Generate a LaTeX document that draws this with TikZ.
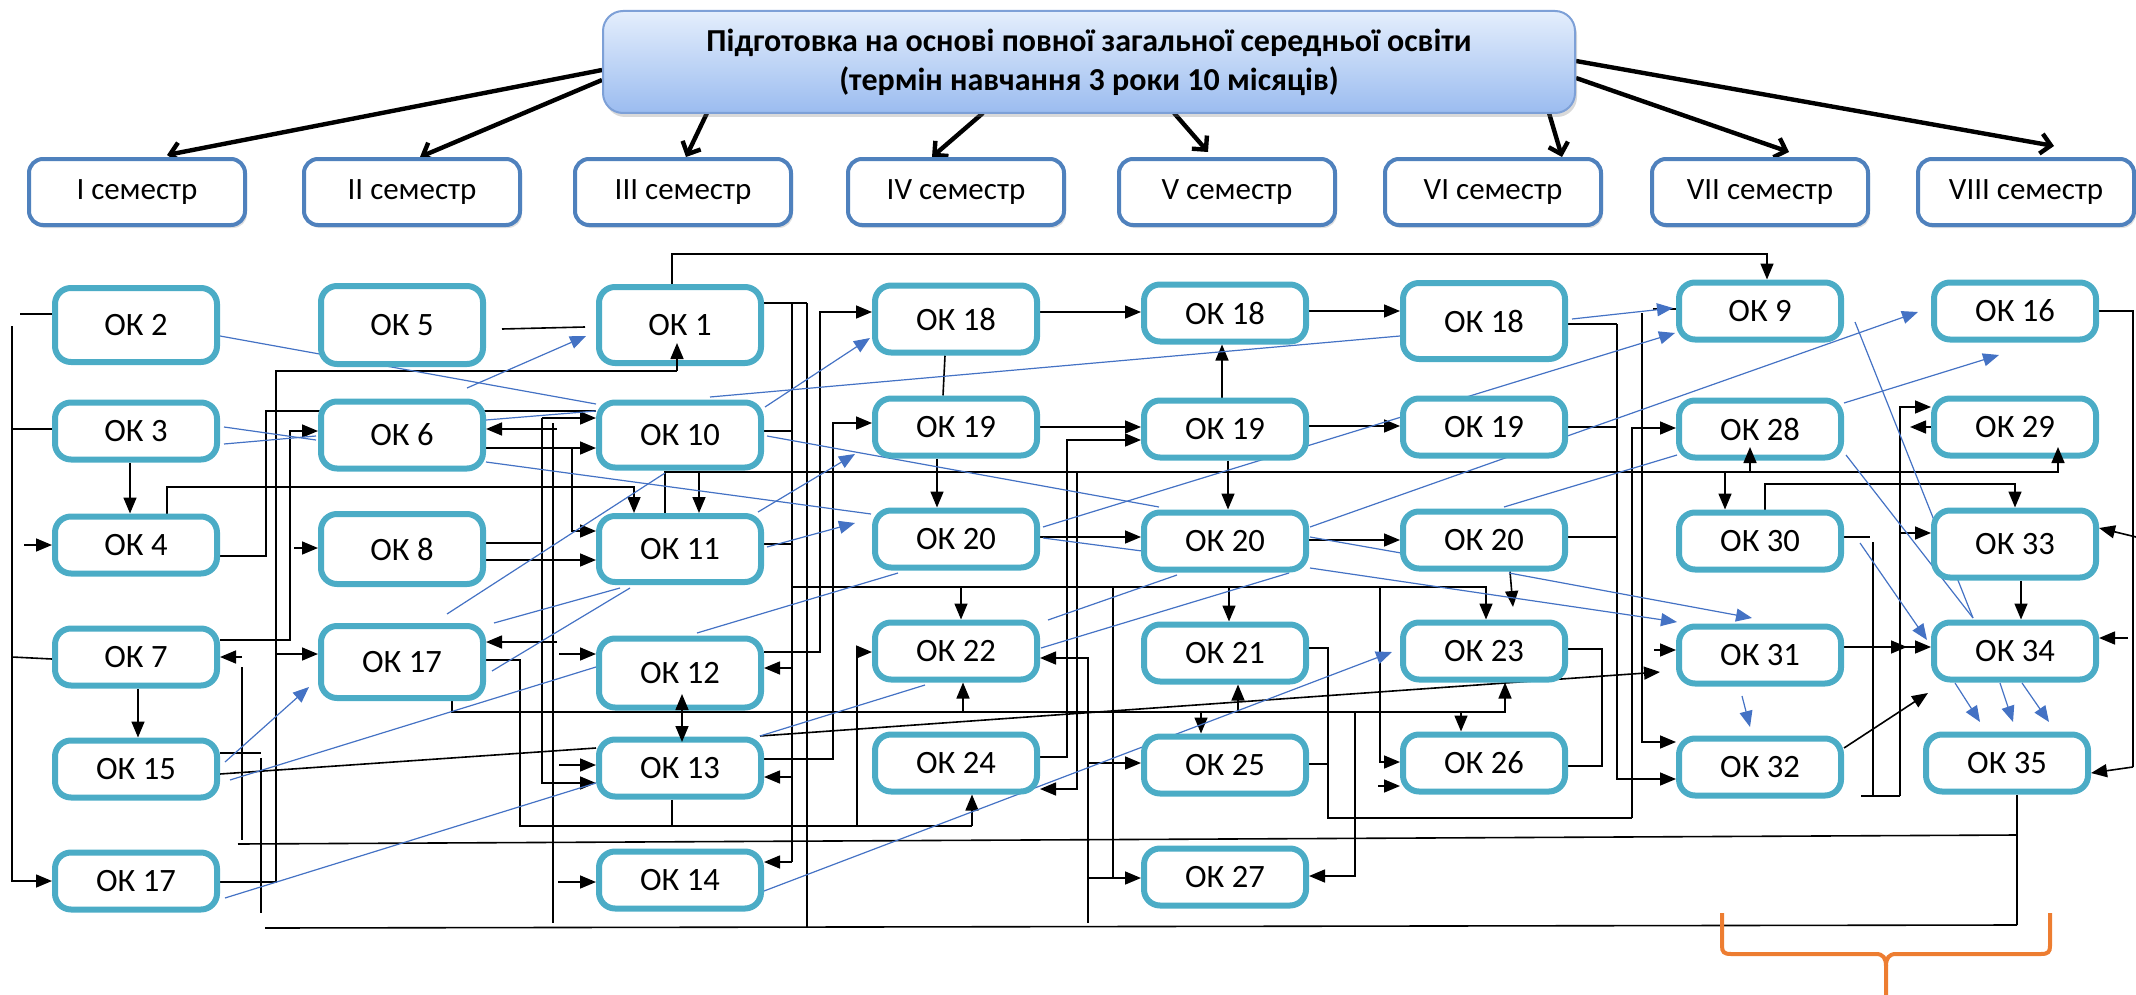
\documentclass[tikz,border=0pt]{standalone}
\usepackage{fontspec}
\setmainfont{Carlito}
\usetikzlibrary{arrows.meta,shadows}
\pgfdeclarelayer{bg}
\pgfsetlayers{bg,main}
\definecolor{okc}{RGB}{75,172,198}
\definecolor{semc}{RGB}{79,129,189}
\definecolor{bluel}{RGB}{68,114,196}
\definecolor{hdrtop}{RGB}{228,238,252}
\definecolor{hdrbot}{RGB}{155,188,240}
\definecolor{hdrline}{RGB}{125,160,215}
\definecolor{orng}{RGB}{237,125,49}
\begin{document}
\begin{tikzpicture}[x=0.5pt,y=-0.5pt,
 ok/.style={draw=okc, line width=3pt, rounded corners=8pt, fill=white, minimum width=81pt, minimum height=28.5pt, inner sep=0pt, font=\fontsize{16.3}{19}\selectfont},
 sem/.style={draw=semc, line width=2pt, rounded corners=7pt, fill=white, minimum width=108pt, minimum height=33pt, inner sep=0pt, font=\fontsize{15.5}{18}\selectfont, drop shadow={opacity=0.25,shadow xshift=1pt,shadow yshift=-1.5pt}},
 hdr/.style={draw=hdrline, line width=1pt, rounded corners=10pt, top color=hdrtop, bottom color=hdrbot, minimum width=486pt, minimum height=51pt, align=center, font=\fontsize{16}{19.5}\selectfont\bfseries, drop shadow={opacity=0.3,shadow xshift=1pt,shadow yshift=-2pt}},
 bl/.style={line width=0.8pt, draw=black},
 ba/.style={bl, -{Triangle[length=8pt,width=6.5pt]}},
 bu/.style={line width=0.6pt, draw=bluel},
 bua/.style={bu, -{Triangle[length=8pt,width=6.5pt]}},
 hd/.style={line width=2.2pt, -{Straight Barb[length=5pt,width=10pt]}}
]
\useasboundingbox (0,0) rectangle (2136,995);

% header and semesters
\node[hdr] (hdr) at (1089,62) {Підготовка на основі повної загальної середньої освіти\\(термін навчання 3 роки 10 місяців)};
\node[sem] (s1) at (137,192) {I семестр};
\node[sem] (s2) at (412,192) {II семестр};
\node[sem] (s3) at (683,192) {III семестр};
\node[sem] (s4) at (956,192) {IV семестр};
\node[sem] (s5) at (1227,192) {V семестр};
\node[sem] (s6) at (1493,192) {VI семестр};
\node[sem] (s7) at (1760,192) {VII семестр};
\node[sem] (s8) at (2026,192) {VIII семестр};

% column 1
\node[ok, minimum height=37pt] (ok2) at (136,325) {ОК 2};
\node[ok] (ok3) at (136,431) {ОК 3};
\node[ok] (ok4) at (136,545) {ОК 4};
\node[ok] (ok7) at (136,657) {ОК 7};
\node[ok] (ok15) at (136,769) {ОК 15};
\node[ok] (ok17a) at (136,881) {ОК 17};
% column 2
\node[ok, minimum height=39pt] (ok5) at (402,325) {ОК 5};
\node[ok, minimum height=33.5pt] (ok6) at (402,435) {ОК 6};
\node[ok, minimum height=35pt] (ok8) at (402,549) {ОК 8};
\node[ok, minimum height=36pt] (ok17b) at (402,662) {ОК 17};
% column 3
\node[ok, minimum height=38pt] (ok1) at (680,325) {ОК 1};
\node[ok, minimum height=32.5pt] (ok10) at (680,435) {ОК 10};
\node[ok, minimum height=33pt] (ok11) at (680,549) {ОК 11};
\node[ok, minimum height=34.5pt] (ok12) at (680,673) {ОК 12};
\node[ok] (ok13) at (680,768) {ОК 13};
\node[ok] (ok14) at (680,880) {ОК 14};
% column 4
\node[ok, minimum height=33.5pt] (ok18a) at (956,319) {ОК 18};
\node[ok] (ok19a) at (956,427) {ОК 19};
\node[ok] (ok20a) at (956,539) {ОК 20};
\node[ok] (ok22) at (956,651) {ОК 22};
\node[ok] (ok24) at (956,763) {ОК 24};
% column 5
\node[ok] (ok18b) at (1225,313) {ОК 18};
\node[ok] (ok19b) at (1225,429) {ОК 19};
\node[ok] (ok20b) at (1225,541) {ОК 20};
\node[ok] (ok21) at (1225,653) {ОК 21};
\node[ok] (ok25) at (1225,765) {ОК 25};
\node[ok] (ok27) at (1225,877) {ОК 27};
% column 6
\node[ok, minimum height=38pt] (ok18c) at (1484,321) {ОК 18};
\node[ok] (ok19c) at (1484,427) {ОК 19};
\node[ok] (ok20c) at (1484,540) {ОК 20};
\node[ok] (ok23) at (1484,651) {ОК 23};
\node[ok] (ok26) at (1484,763) {ОК 26};
% column 7
\node[ok] (ok9) at (1760,311) {ОК 9};
\node[ok] (ok28) at (1760,429) {ОК 28};
\node[ok] (ok30) at (1760,541) {ОК 30};
\node[ok] (ok31) at (1760,655) {ОК 31};
\node[ok] (ok32) at (1760,767) {ОК 32};
% column 8
\node[ok] (ok16) at (2015,311) {ОК 16};
\node[ok] (ok29) at (2015,427) {ОК 29};
\node[ok, minimum height=33.5pt] (ok33) at (2015,544) {ОК 33};
\node[ok] (ok34) at (2015,651) {ОК 34};
\node[ok] (ok35) at (2007,763) {ОК 35};

\begin{pgfonlayer}{bg}
% header arrows
\draw[hd] (hdr.west |- 0,70) -- (167,155);
\draw[hd] (hdr.west |- 0,80) -- (420,157);
\draw[hd] (707,113) -- (686,157);
\draw[hd] (983,113) -- (932,157);
\draw[hd] (1174,113) -- (1208,152);
\draw[hd] (1549,113) -- (1562,157);
\draw[hd] (hdr.east |- 0,78) -- (1789,152);
\draw[hd] (hdr.east |- 0,61) -- (2054,146);

% black connectors
\draw[ba] (ok1.north -| 672,0) |- (1767,254) -- (ok9.north -| 1767,0);
\draw[ba] (12,326) |- (ok17a.west);
\draw[bl] (20,314) -- (ok2.west |- 0,314);
\draw[bl] (12,429) -- (ok3.west |- 0,429);
\draw[bl] (12,657) -- (ok7.west |- 0,659);
\draw[ba] (24,545) -- (ok4.west);
\draw[ba] (ok3.south -| 130,0) -- (ok4.north -| 130,0);
\draw[ba] (ok7.south -| 138,0) -- (ok15.north -| 138,0);
\draw[ba] (ok4.north -| 167,0) |- (634,487) -- (ok11.north -| 634,0);
\draw[bl] (ok4.east |- 0,556) -- (266,556) -- (266,411) -- (ok10.west |- 0,411);
\draw[ba] (ok7.east |- 0,640) -- (290,640) -- (290,431) -- (ok6.west |- 0,431);
\draw[bl] (ok17a.east |- 0,882) -- (276,882) -- (276,371) -- (677,371);
\draw[ba] (276,654) -- (ok17b.west |- 0,654);
\draw[bl] (502,329) -- (585,327);
\draw[ba] (542,418) -- (ok10.west |- 0,418);
\draw[ba] (542,418) |- (ok13.west |- 0,783);
\draw[bl] (553,423) -- (553,923);
\draw[ba] (557,429) -- (ok6.east |- 0,429);
\draw[ba] (ok6.east |- 0,448) -- (ok10.west |- 0,448);
\draw[ba] (572,448) |- (ok11.west |- 0,531);
\draw[bl] (ok8.east |- 0,543) -- (542,543);
\draw[ba] (ok8.east |- 0,560) -- (ok11.west |- 0,560);
\draw[ba] (294,548) -- (ok8.west |- 0,548);
\draw[ba] (ok10.south -| 699,0) -- (ok11.north -| 699,0);
\draw[bl] (ok11.north -| 665,0) |- (2058,472) -- (2058,460);
\draw[ba] (1725,472) -- (ok30.north -| 1725,0);
\draw[bl] (ok1.east |- 0,303) -- (807,303);
\draw[bl] (792,303) -- (792,862);
\draw[ba] (792,862) -- (ok14.east |- 0,862);
\draw[bl] (807,303) -- (807,928);
\draw[ba] (ok12.east |- 0,652) -| (820,312) -- (ok18a.west |- 0,312);
\draw[ba] (ok13.east |- 0,759) -| (833,423) -- (ok19a.west |- 0,423);
\draw[bl] (ok10.east |- 0,431) -- (792,431);
\draw[bl] (ok11.east |- 0,544) -- (792,544);
\draw[ba] (792,668) -- (ok12.east |- 0,668);
\draw[ba] (792,777) -- (ok13.east |- 0,777);
\draw[ba] (792,587) -| (ok23.north -| 1486,0);
\draw[ba] (961,587) -- (ok22.north -| 961,0);
\draw[ba] (1229,587) -- (ok21.north -| 1229,0);
\draw[ba] (1113,587) |- (ok27.west |- 0,878);
\draw[ba] (1380,587) |- (ok26.west |- 0,762);
\draw[ba] (559,654) -- (ok12.west |- 0,654);
\draw[ba] (559,765) -- (ok13.west |- 0,765);
\draw[ba] (558,882) -- (ok14.west |- 0,882);
\draw[ba] (557,642) -- (ok17b.east |- 0,642);
\draw[bl] (ok15.east |- 0,774) -- (ok13.west |- 0,748);
\draw[ba] (760,736) -- (1660,672);
\draw[ba] (ok17b.south -| 452,0) |- (1505,712) -- (ok23.south -| 1505,0);
\draw[ba] (963,712) -- (ok22.south -| 963,0);
\draw[ba] (1238,712) -- (ok21.south -| 1238,0);
\draw[ba] (1201,712) -- (ok25.north -| 1201,0);
\draw[ba] (1461,712) -- (ok26.north -| 1461,0);
\draw[bl] (ok17b.east |- 0,660) -- (520,660) -- (520,826) -- (972,826);
\draw[ba] (972,826) -- (ok24.south -| 972,0);
\draw[ba] (857,826) |- (ok22.west |- 0,652);
\draw[bl] (ok13.south -| 672,0) -- (672,826);
\draw[bl] (238,844) -- (2017,835);
\draw[bl] (ok35.south -| 2017,0) -- (2017,925);
\draw[bl] (242,667) -- (242,840);
\draw[ba] (242,657) -- (ok7.east |- 0,657);
\draw[bl] (ok15.east |- 0,753) -- (261,753);
\draw[bl] (261,758) -- (261,913);
\draw[bl] (265,928) -- (2017,925);
\draw[ba] (ok24.east |- 0,757) -- (1067,757) -- (1067,440) -- (ok19b.west |- 0,440);
\draw[ba] (1077,473) -- (1077,789) -- (ok24.east |- 0,789);
\draw[ba] (1088,923) -- (1088,658) -- (ok22.east |- 0,658);
\draw[ba] (1089,763) -- (ok25.west |- 0,763);
\draw[bl] (1089,878) -- (1113,878);
\draw[bl] (ok21.east |- 0,648) -- (1328,648) -- (1328,818) -- (1632,818);
\draw[ba] (1632,818) -- (1632,428) -- (ok28.west |- 0,428);
\draw[bl] (ok25.east |- 0,764) -- (1328,764);
\draw[ba] (1355,713) -- (1355,876) -- (ok27.east |- 0,876);
\draw[ba] (ok18a.east |- 0,312) -- (ok18b.west |- 0,312);
\draw[ba] (ok18b.east |- 0,311) -- (ok18c.west |- 0,311);
\draw[bl] (ok18a.south -| 945,0) -- (ok19a.north -| 943,0);
\draw[ba] (ok19b.north -| 1222,0) -- (ok18b.south -| 1222,0);
\draw[ba] (ok19a.east |- 0,427) -- (ok19b.west |- 0,427);
\draw[ba] (ok19b.east |- 0,426) -- (ok19c.west |- 0,426);
\draw[ba] (ok19a.south -| 937,0) -- (ok20a.north -| 937,0);
\draw[ba] (ok19b.south -| 1228,0) -- (ok20b.north -| 1228,0);
\draw[ba] (ok20a.east |- 0,537) -- (ok20b.west |- 0,537);
\draw[ba] (ok20b.east |- 0,540) -- (ok20c.west |- 0,540);
\draw[ba] (ok20c.south -| 1510,0) -- (1513,607);
\draw[bl] (ok23.east |- 0,649) -- (1602,649) -- (1602,766) -- (ok26.east |- 0,766);
\draw[ba] (1378,786) -- (ok26.west |- 0,786);
\draw[bl] (ok18c.east |- 0,324) -- (1617,324);
\draw[ba] (1617,324) |- (ok32.west |- 0,779);
\draw[bl] (ok19c.east |- 0,427) -- (1617,427);
\draw[bl] (ok20c.east |- 0,537) -- (1617,537);
\draw[bl] (1653,309) -- (ok9.west |- 0,309);
\draw[ba] (1642,313) |- (ok32.west |- 0,742);
\draw[ba] (1654,650) -- (ok31.west |- 0,650);
\draw[ba] (ok31.east |- 0,647) -- (ok34.west |- 0,647);
\draw[ba] (ok31.east |- 0,647) -- (1907,647);
\draw[ba] (ok32.east |- 0,748) -- (1928,693);
\draw[ba] (ok30.north -| 1765,0) |- (2015,484) -- (ok33.north -| 2015,0);
\draw[ba] (1900,796) -- (1900,407) -- (ok29.west |- 0,407);
\draw[bl] (1861,796) -- (1900,796);
\draw[bl] (1873,542) -- (1873,796);
\draw[bl] (ok30.east |- 0,537) -- (1870,537);
\draw[ba] (ok29.west |- 0,427) -- (1910,427);
\draw[ba] (1900,533) -- (ok33.west |- 0,533);
\draw[bl] (ok16.east |- 0,311) -- (2133,311) -- (2133,767);
\draw[ba] (2136,537) -- (ok33.east |- 0,528);
\draw[ba] (2128,638) -- (ok34.east |- 0,638);
\draw[ba] (2133,767) -- (ok35.east |- 0,773);
\draw[ba] (ok33.south -| 2021,0) -- (ok34.north -| 2021,0);

% blue connectors
\draw[bu] (ok2.east |- 0,336) -- (596,404);
\draw[bua] (467,388) -- (586,336);
\draw[bu] (224,427) -- (316,440);
\draw[bu] (224,444) -- (316,436);
\draw[bu] (486,420) -- (596,411);
\draw[bu] (486,462) -- (871,514);
\draw[bua] (765,407) -- (870,338);
\draw[bu] (710,397) -- (1400,336);
\draw[bu] (767,436) -- (1159,507);
\draw[bua] (758,512) -- (855,454);
\draw[bua] (767,547) -- (855,523);
\draw[bu] (447,614) -- (665,473);
\draw[bu] (494,623) -- (620,588);
\draw[bu] (492,671) -- (630,588);
\draw[bu] (697,633) -- (898,573);
\draw[bu] (230,780) -- (596,667);
\draw[bua] (225,762) -- (309,687);
\draw[bu] (225,898) -- (596,783);
\draw[bu] (760,736) -- (925,685);
\draw[bua] (764,891) -- (1392,652);
\draw[bua] (1043,527) -- (1675,333);
\draw[bua] (1310,527) -- (1918,312);
\draw[bu] (1041,648) -- (1289,573);
\draw[bu] (1048,620) -- (1177,575);
\draw[bua] (1572,319) -- (1673,308);
\draw[bu] (1504,507) -- (1677,455);
\draw[bua] (1844,403) -- (1999,355);
\draw[bu] (1855,322) -- (1973,618);
\draw[bu] (1846,455) -- (1973,618);
\draw[bua] (1860,543) -- (1927,640);
\draw[bu] (1043,538) -- (1142,551);
\draw[bu] (1310,537) -- (1401,553);
\draw[bua] (1310,568) -- (1677,622);
\draw[bua] (1509,573) -- (1752,618);
\end{pgfonlayer}

% arrows drawn over boxes
\draw[ba] (677,371) -- (677,343);
\draw[ba] (1750,472) -- (1750,447);
\draw[ba] (2058,472) -- (2058,447);
\draw[bl, {Triangle[length=8pt,width=6.5pt]}-{Triangle[length=8pt,width=6.5pt]}] (682,694) -- (682,742);
\draw[bua] (1742,696) -- (1750,727);
\draw[bua] (1955,683) -- (1980,722);
\draw[bua] (2000,683) -- (2013,722);
\draw[bua] (2022,683) -- (2049,722);

% orange brace
\draw[orng, line width=2pt] (1722,913) -- (1722,946) .. controls (1722,952) and (1724,954) .. (1731,954) -- (1876,954) .. controls (1883,954) and (1886,958) .. (1886,966) -- (1886,995);
\draw[orng, line width=2pt] (2050,913) -- (2050,946) .. controls (2050,952) and (2048,954) .. (2041,954) -- (1896,954) .. controls (1889,954) and (1886,958) .. (1886,966);
\end{tikzpicture}
\end{document}
